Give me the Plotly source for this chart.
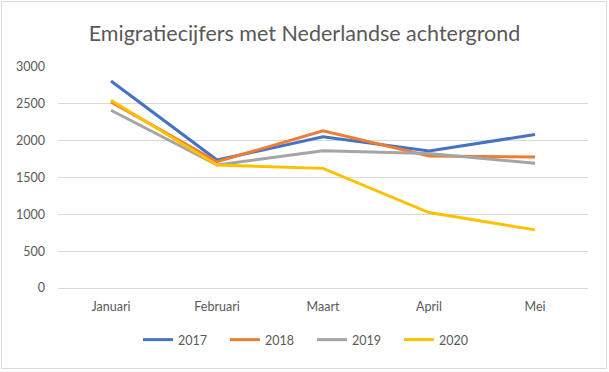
import plotly.graph_objects as go

months = ["Januari", "Februari", "Maart", "April", "Mei"]
y2017 = [2810, 1737, 2053, 1859, 2084]
y2018 = [2526, 1714, 2134, 1791, 1777]
y2019 = [2413, 1669, 1863, 1827, 1692]
y2020 = [2549, 1669, 1624, 1024, 789]
series = [("2017", y2017, "#4472C4"), ("2018", y2018, "#ED7D31"),
          ("2019", y2019, "#A5A5A5"), ("2020", y2020, "#FFC000")]

W, H = 609, 372
ml, mr, mt, mb = 58, 21, 67, 84
pw, ph = W - ml - mr, H - mt - mb

fig = go.Figure()
for name, vals, col in series:
    fig.add_trace(go.Scatter(x=months, y=vals, name=name, mode="lines",
                             line=dict(color=col, width=3)))

fig.update_layout(
    width=W, height=H, autosize=False,
    margin=dict(l=ml, r=mr, t=mt, b=mb, autoexpand=False),
    paper_bgcolor="white", plot_bgcolor="white",
    font=dict(family="Lato, Calibri, sans-serif", color="#595959", size=12),
    title=dict(text="Emigratiecijfers met Nederlandse achtergrond",
               x=0.5, xanchor="center", y=1 - 33 / H, yanchor="middle",
               xref="container",
               font=dict(size=21.5, color="#595959")),
    xaxis=dict(range=[-0.5, 4.5], showgrid=False, showline=False, ticks="",
               tickfont=dict(size=12.5, color="#595959"), ticklabelstandoff=9),
    yaxis=dict(range=[0, 3000], dtick=500, gridcolor="#D9D9D9", gridwidth=1,
               zeroline=True, zerolinecolor="#D9D9D9", zerolinewidth=1,
               showline=False, ticks="", ticklabelstandoff=12,
               tickfont=dict(size=12.5, color="#595959")),
    legend=dict(orientation="h", x=(312 - ml) / pw, xanchor="center", y=-52 / ph,
                yanchor="middle", font=dict(size=12.5, color="#595959"),
                itemwidth=30, entrywidth=42, entrywidthmode="pixels",
                traceorder="normal"),
    shapes=[dict(type="rect", xref="paper", yref="paper",
                 x0=(1.5 - ml) / pw, x1=(W - 2.5 - ml) / pw,
                 y0=-(H - 3.5 - mt - ph) / ph, y1=1 + (mt - 1.5) / ph,
                 line=dict(color="#D9D9D9", width=1), fillcolor="rgba(0,0,0,0)")],
)

fig.write_html("out.html", config={"displayModeBar": False},
               post_script="document.body.style.margin='0';")
